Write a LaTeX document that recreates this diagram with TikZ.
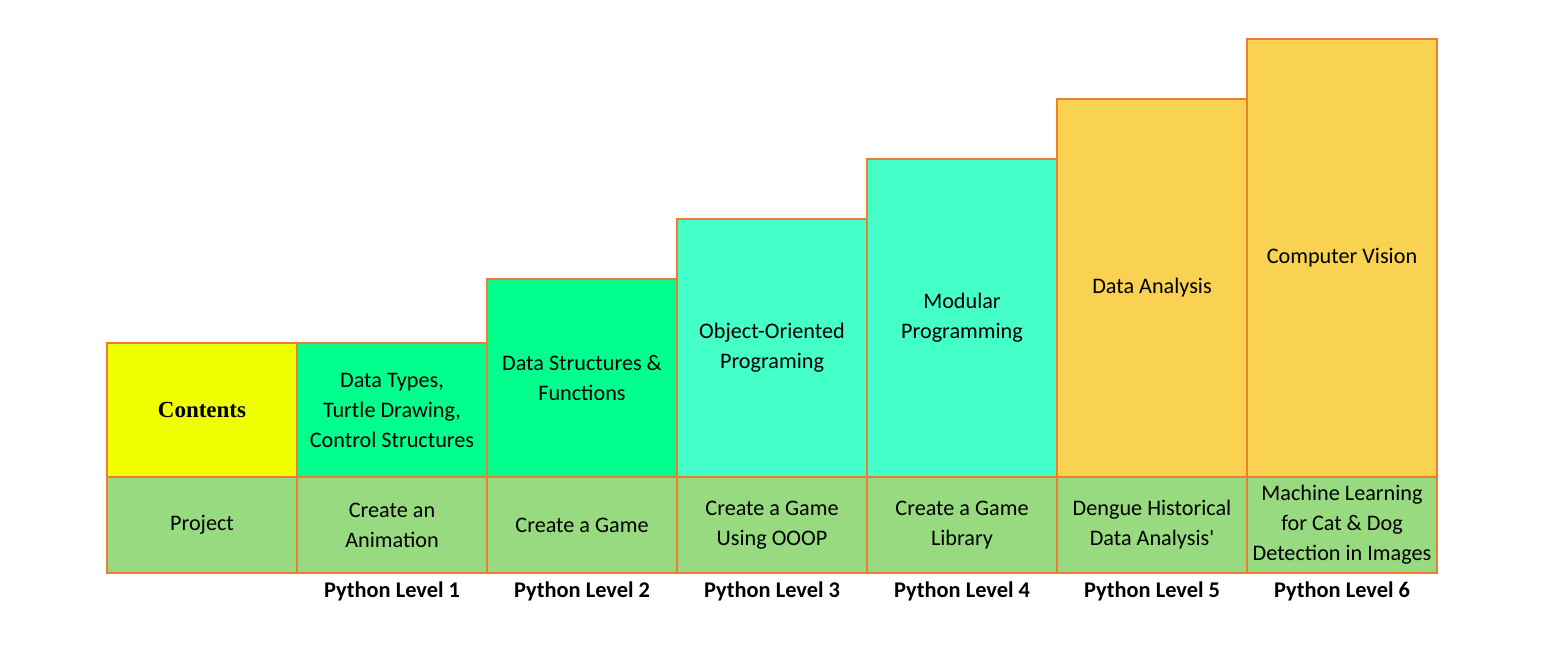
\documentclass[tikz,border=0pt]{standalone}
\usepackage{fontspec}
\setmainfont{Carlito}
\newfontfamily\headfont{Liberation Serif}
\usepackage{xcolor}
\usetikzlibrary{positioning}

\definecolor{edgeorange}{HTML}{ED7D31}
\definecolor{contyellow}{HTML}{F0FF00}
\definecolor{lvlgreen}{HTML}{00FF8C}
\definecolor{lvlteal}{HTML}{45FFC8}
\definecolor{lvlgold}{HTML}{F8D250}
\definecolor{projgreen}{HTML}{98DA80}

\begin{document}
\begin{tikzpicture}[
    x=0.5pt, y=-0.5pt,
    node distance=0pt,
    cell/.style={rectangle, draw=edgeorange, line width=1pt, minimum width=95pt, text width=93pt, inner sep=1pt, outer sep=0pt, align=flush center, font=\fontsize{11.1}{15}\selectfont},
    proj/.style={cell, fill=projgreen, minimum height=48pt},
    topic/.style={cell, minimum height=#1},
    level/.style={font=\fontsize{11.2}{12}\selectfont\bfseries, inner sep=0pt}
]
\useasboundingbox (0,0) rectangle (1552,646);

% Project row
\node[proj, anchor=north west] (proj0) at (107,477) {Project};
\node[proj, right=of proj0] (proj1) {Create an\\Animation};
\node[proj, right=of proj1] (proj2) {Create a Game};
\node[proj, right=of proj2] (proj3) {Create a Game\\Using OOOP};
\node[proj, right=of proj3] (proj4) {Create a Game\\Library};
\node[proj, right=of proj4] (proj5) {Dengue Historical\\Data Analysis\textquotesingle};
\node[proj, right=of proj5] (proj6) {Machine Learning\\for Cat \& Dog\\Detection in Images};

% Contents steps
\node[topic=67pt, fill=contyellow, above=of proj0, font=\fontsize{11.5}{15}\selectfont\headfont\bfseries] (cont) {Contents};
\node[topic=67pt, fill=lvlgreen, above=of proj1] (top1) {Data Types,\\Turtle Drawing,\\Control Structures};
\node[topic=99pt, fill=lvlgreen, above=of proj2] (top2) {Data Structures \&\\Functions};
\node[topic=129pt, fill=lvlteal, above=of proj3] (top3) {Object-Oriented\\Programing};
\node[topic=159pt, fill=lvlteal, above=of proj4] (top4) {Modular\\Programming};
\node[topic=189pt, fill=lvlgold, above=of proj5] (top5) {Data Analysis};
\node[topic=219pt, fill=lvlgold, above=of proj6] (top6) {Computer Vision};

% Level labels
\node[level, below=4pt of proj1] (lev1) {Python Level 1};
\node[level, below=4pt of proj2] (lev2) {Python Level 2};
\node[level, below=4pt of proj3] (lev3) {Python Level 3};
\node[level, below=4pt of proj4] (lev4) {Python Level 4};
\node[level, below=4pt of proj5] (lev5) {Python Level 5};
\node[level, below=4pt of proj6] (lev6) {Python Level 6};

\end{tikzpicture}
\end{document}
